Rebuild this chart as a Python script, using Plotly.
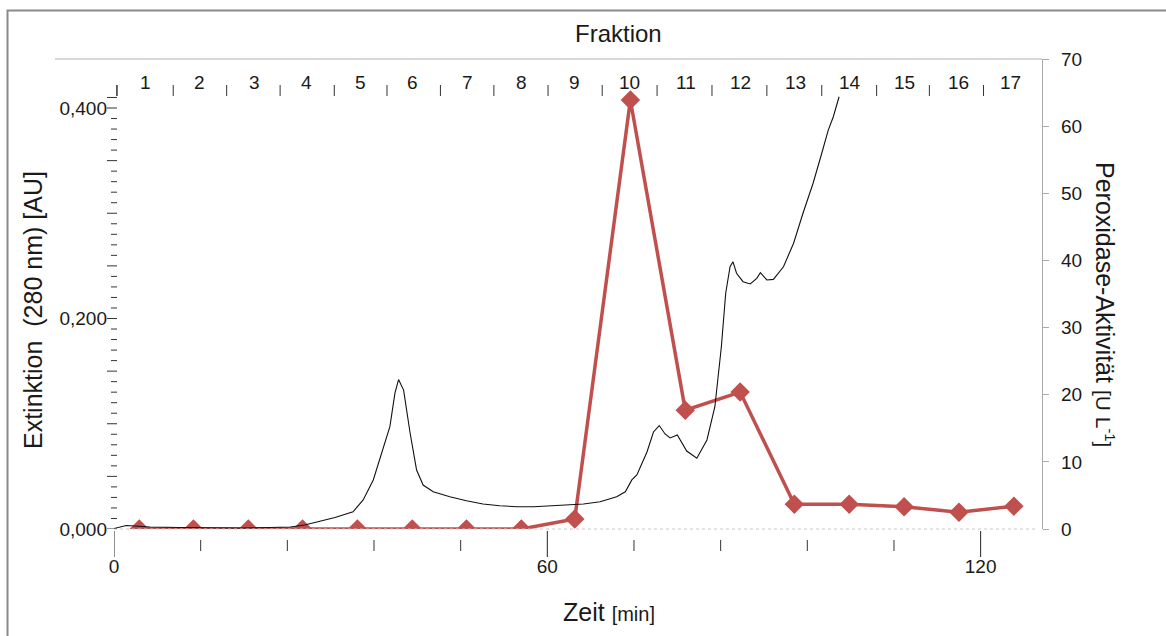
import plotly.graph_objects as go

# ---------------- data ----------------
# absorbance trace (time in min, extinction at 280 nm)
abs_time = [0.0, 0.8, 1.7, 2.9, 5.0, 9.1, 13.3, 17.4, 21.6, 24.4, 26.4, 28.5, 30.6, 33.1,
            34.5, 35.9, 37.2, 38.2, 38.9, 39.4, 40.1, 41.0, 41.9, 42.8, 44.2, 46.5, 48.8,
            51.1, 53.4, 55.8, 58.1, 60.4, 62.7, 65.0, 67.3, 69.6, 70.8, 71.7, 72.4, 73.8,
            74.7, 75.5, 76.3, 77.0, 78.0, 79.3, 80.7, 82.1, 83.2, 84.1, 84.7, 85.3, 85.7,
            86.2, 87.1, 88.1, 89.0, 89.5, 90.4, 91.3, 92.7, 94.1, 95.4, 96.8, 98.0, 98.9,
            99.6, 100.4]
abs_value = [0.0005, 0.0019, 0.0033, 0.0029, 0.0019, 0.0014, 0.0010, 0.0010, 0.0014, 0.0019,
             0.0038, 0.0071, 0.0110, 0.0164, 0.0276, 0.0466, 0.0750, 0.0972, 0.1290, 0.1420,
             0.1320, 0.0912, 0.0560, 0.0418, 0.0354, 0.0307, 0.0269, 0.0238, 0.0221, 0.0212,
             0.0212, 0.0219, 0.0228, 0.0238, 0.0259, 0.0307, 0.0354, 0.0466, 0.0513, 0.0732,
             0.0922, 0.0983, 0.0903, 0.0865, 0.0893, 0.0741, 0.0672, 0.0846, 0.1162, 0.1732,
             0.2240, 0.2492, 0.2540, 0.2430, 0.2350, 0.2328, 0.2382, 0.2435, 0.2366, 0.2372,
             0.2492, 0.2715, 0.3000, 0.3285, 0.3570, 0.3790, 0.3917, 0.4107]

# peroxidase activity per fraction
pox_time = [3.5, 11.0, 18.6, 26.1, 33.7, 41.3, 48.8, 56.4, 63.8, 71.5, 79.1, 86.7, 94.2,
            101.8, 109.4, 117.0, 124.6]
pox_value = [0, 0, 0, 0, 0, 0, 0, 0, 1.5, 63.9, 17.7, 20.4, 3.7, 3.7, 3.3, 2.5, 3.4]

# fraction axis
frac_labels = [str(i) for i in range(1, 18)]
frac_label_time = [4.4, 11.9, 19.4, 26.7, 34.1, 41.4, 48.9, 56.4, 63.8, 71.4, 79.2, 86.8,
                   94.4, 101.9, 109.4, 116.9, 124.1]
frac_edges = [0.4, 8.2, 15.6, 23.0, 30.5, 37.8, 45.2, 52.6, 60.1, 67.6, 75.2, 82.8, 90.4,
              98.0, 105.6, 112.9, 120.4]

x_major = [0, 60, 120]
x_major_text = ["0", "60", "120"]
x_minor = [12, 24, 36, 48, 72, 84, 96, 108]
y_major = [0.0, 0.2, 0.4]
y_major_text = ["0,000", "0,200", "0,400"]

# ---------------- layout helpers ----------------
W, H = 1166, 636
L, R, T, B = 114, 1042, 59, 529  # plot area in pixels


def px(X):
    return (X - L) / (R - L)


def py(Y):
    return (B - Y) / (B - T)


FONT = "Liberation Sans, Arial, sans-serif"
RED = "#C0504D"

fig = go.Figure()

fig.add_trace(go.Scatter(
    x=pox_time, y=pox_value, mode="lines+markers", yaxis="y2",
    line=dict(color=RED, width=3.5),
    marker=dict(symbol="diamond", size=15, color=RED),
    hoverinfo="skip"))

fig.add_trace(go.Scatter(
    x=abs_time, y=abs_value, mode="lines", yaxis="y3",
    line=dict(color="#111111", width=1.1),
    hoverinfo="skip"))

shapes = []
# outer frame
shapes.append(dict(type="rect", xref="paper", yref="paper",
                   x0=px(7.5), x1=px(1175), y0=py(650), y1=py(10.5),
                   line=dict(color="#8a8a8a", width=2), fillcolor="rgba(0,0,0,0)", layer="below"))
# fraction line on top
shapes.append(dict(type="line", xref="paper", yref="paper",
                   x0=px(55), x1=1.0, y0=1.0, y1=1.0,
                   line=dict(color="#b0b0b0", width=1.2)))
# fraction ticks
for e in frac_edges:
    shapes.append(dict(type="line", xref="x", yref="paper", x0=e, x1=e,
                       y0=py(85), y1=py(96), line=dict(color="#333333", width=1)))
# baseline dotted
shapes.append(dict(type="line", xref="paper", yref="paper", x0=0, x1=px(1036),
                   y0=0, y1=0, line=dict(color="#c8c8c8", width=1, dash="dot")))
# x major ticks
for m in x_major:
    shapes.append(dict(type="line", xref="x", yref="paper", x0=m, x1=m,
                       y0=py(531), y1=py(557), line=dict(color="#222222", width=1)))
# x minor ticks
for m in x_minor:
    shapes.append(dict(type="line", xref="x", yref="paper", x0=m, x1=m,
                       y0=py(540), y1=py(551), line=dict(color="#333333", width=1)))
# left axis ticks (0.00 ... 0.41)
for i in range(0, 42):
    v = i * 0.01
    long_tick = (i % 5 == 0) or i == 41
    x0 = 107 if long_tick else 111
    shapes.append(dict(type="line", xref="paper", yref="y", x0=px(x0), x1=px(117),
                       y0=v, y1=v, line=dict(color="#333333", width=1)))
# corner tick at top-left of fraction axis
shapes.append(dict(type="line", xref="paper", yref="paper", x0=px(117), x1=px(117),
                   y0=py(85), y1=py(96), line=dict(color="#333333", width=1)))

annotations = []
for lab, t in zip(frac_labels, frac_label_time):
    annotations.append(dict(x=t, y=py(82), xref="x", yref="paper", text=lab,
                            showarrow=False, xanchor="center", yanchor="middle",
                            font=dict(size=19, color="#1a1a1a", family=FONT)))
annotations.append(dict(x=px(618), y=py(33), xref="paper", yref="paper", text="Fraktion",
                        showarrow=False, xanchor="center", yanchor="middle",
                        font=dict(size=24, color="#1a1a1a", family=FONT)))
annotations.append(dict(x=px(609), y=py(612), xref="paper", yref="paper",
                        text="Zeit <span style='font-size:20px'>[min]</span>",
                        showarrow=False, xanchor="center", yanchor="middle",
                        font=dict(size=25, color="#1a1a1a", family=FONT)))
annotations.append(dict(x=px(33), y=py(310), xref="paper", yref="paper",
                        text="Extinktion  (280 nm) [AU]", textangle=-90,
                        showarrow=False, xanchor="center", yanchor="middle",
                        font=dict(size=25, color="#1a1a1a", family=FONT)))
annotations.append(dict(x=px(1105), y=py(304), xref="paper", yref="paper",
                        text="Peroxidase-Aktivität <span style='font-size:21px'>[U L<sup>-1</sup>]</span>",
                        textangle=90,
                        showarrow=False, xanchor="center", yanchor="middle",
                        font=dict(size=25, color="#1a1a1a", family=FONT)))

fig.update_layout(
    width=W, height=H,
    margin=dict(l=L, r=W - R, t=T, b=H - B, pad=0),
    paper_bgcolor="white", plot_bgcolor="white",
    showlegend=False,
    font=dict(family=FONT, size=19, color="#1a1a1a"),
    xaxis=dict(range=[0, (R - L) / 7.222], tickmode="array", tickvals=x_major,
               ticktext=x_major_text, ticks="", showline=False, showgrid=False,
               zeroline=False, tickfont=dict(size=19), ticklabelstandoff=24),
    yaxis=dict(range=[0, (B - T) / 1052.5], tickmode="array", tickvals=y_major,
               ticktext=y_major_text, ticks="", showline=False, showgrid=False,
               zeroline=False, tickfont=dict(size=19), ticklabelstandoff=6),
    yaxis3=dict(range=[0, (B - T) / 1052.5], overlaying="y", visible=False),
    yaxis2=dict(range=[0, 70], overlaying="y", side="right", anchor="x",
                tickmode="linear", tick0=0, dtick=10, ticks="outside", ticklen=6,
                tickcolor="#aaaaaa", showline=True, linecolor="#aaaaaa", linewidth=1.2,
                showgrid=False, zeroline=False, tickfont=dict(size=19),
                ticklabelstandoff=8),
    shapes=shapes,
    annotations=annotations,
)

fig.write_html("out.html")
